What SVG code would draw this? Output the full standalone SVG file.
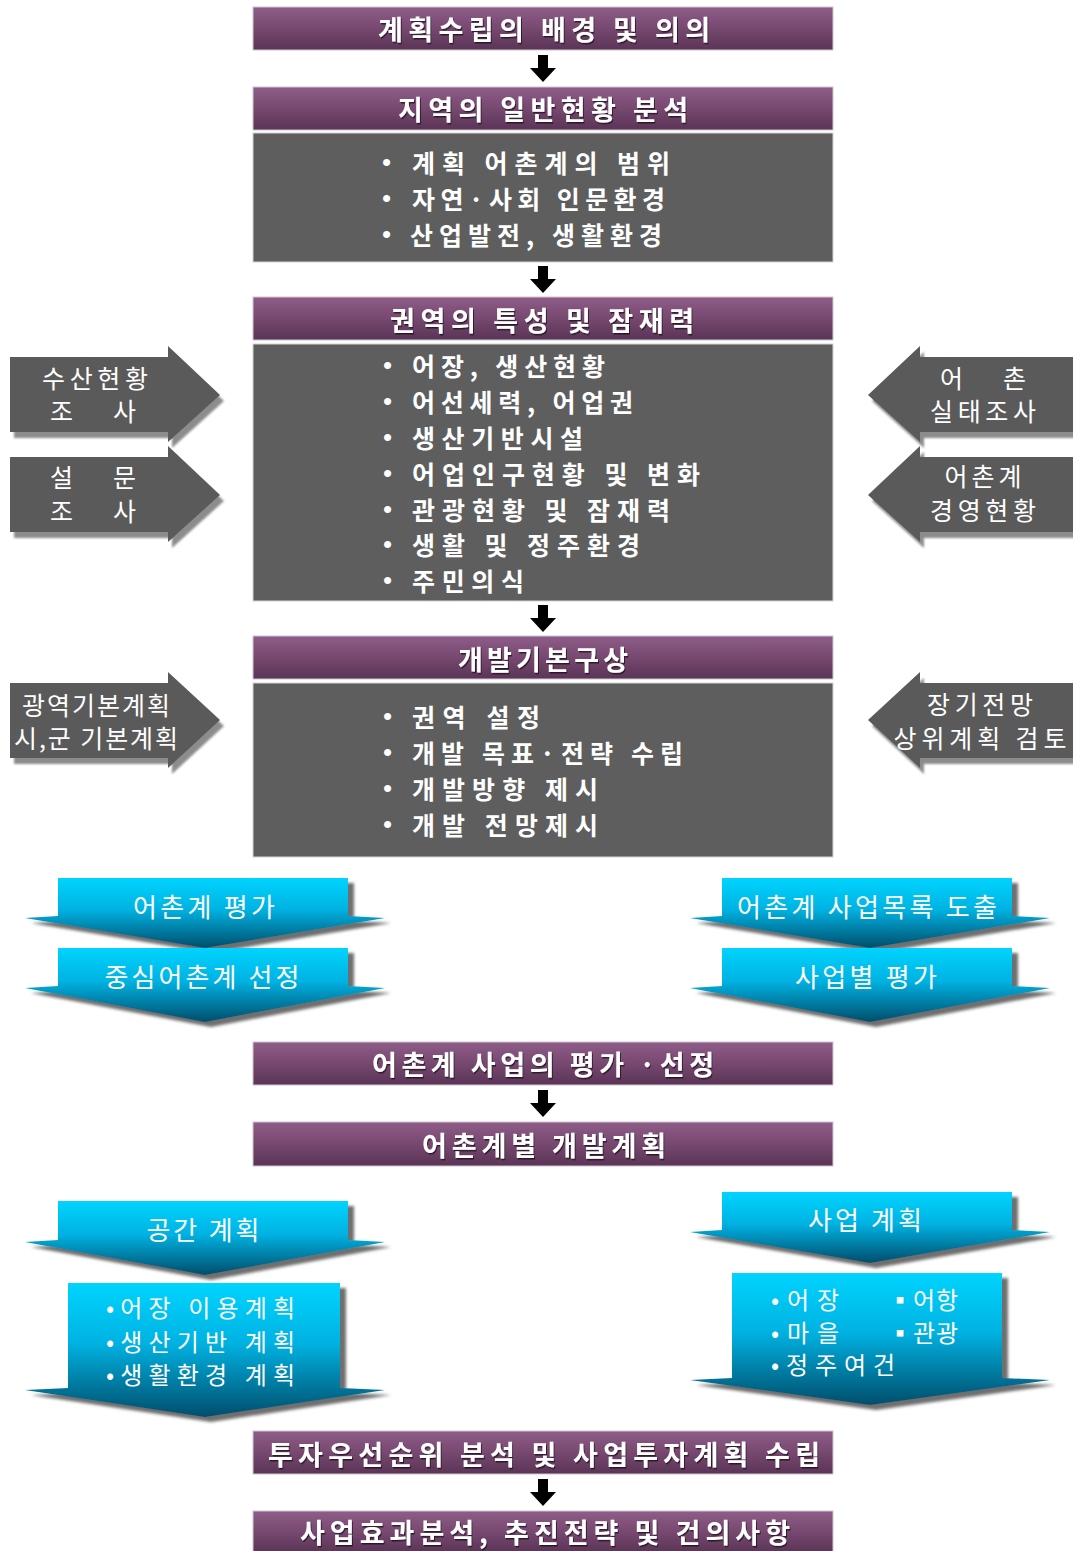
<svg xmlns="http://www.w3.org/2000/svg" width="1073" height="1551" viewBox="0 0 1073 1551">
<defs>
  <linearGradient id="gPurple" x1="0" y1="0" x2="0" y2="1">
    <stop offset="0" stop-color="#8f5d89"/>
    <stop offset="0.5" stop-color="#774870"/>
    <stop offset="1" stop-color="#5a3456"/>
  </linearGradient>
  <linearGradient id="gBlue" x1="0" y1="0" x2="0" y2="1">
    <stop offset="0" stop-color="#00d4ff"/>
    <stop offset="0.45" stop-color="#00b2e2"/>
    <stop offset="1" stop-color="#004e6c"/>
  </linearGradient>
  <filter id="fTxt" x="-5%" y="-20%" width="110%" height="150%">
    <feDropShadow dx="1" dy="1.5" stdDeviation="0.6" flood-color="#000" flood-opacity="0.6"/>
  </filter>
  <filter id="fBlue" x="-5%" y="-5%" width="115%" height="120%">
    <feDropShadow dx="6" dy="5" stdDeviation="1.5" flood-color="#555" flood-opacity="0.85"/>
  </filter>
  <filter id="fSide" x="-5%" y="-5%" width="115%" height="120%">
    <feDropShadow dx="4" dy="6" stdDeviation="1" flood-color="#8c8c8c" flood-opacity="1"/>
  </filter>
  <path id="dn" d="M-5,0 H5 V13 H13 L0,27 L-13,13 H-5 Z"/>
  <style>
    .bar { fill: url(#gPurple); stroke: #cfc6cf; stroke-width: 1; }
    .box { fill: #5e5e5e; stroke: #d4d4d4; stroke-width: 1; }
    .bt { font-family: "Noto Sans CJK KR", "Liberation Sans", sans-serif; font-size: 27px; font-weight: bold; fill: #fff; text-anchor: middle; dominant-baseline: central; filter: url(#fTxt); }
    .it { font-family: "Noto Sans CJK KR", "Liberation Sans", sans-serif; font-size: 25px; font-weight: bold; fill: #fff; dominant-baseline: central; }
    .bul { font-family: "Liberation Sans", sans-serif; font-size: 26px; fill: #fff; dominant-baseline: central; }
    .side { fill: #5a5a5a; filter: url(#fSide); }
    .st { font-family: "Noto Sans CJK KR", "Liberation Sans", sans-serif; font-size: 25px; fill: #fff; text-anchor: middle; dominant-baseline: central; }
    .blue { fill: url(#gBlue); filter: url(#fBlue); }
    .blt { font-family: "Noto Sans CJK KR", "Liberation Sans", sans-serif; font-size: 26px; fill: #fff; text-anchor: middle; dominant-baseline: central; }
    .blb { font-family: "Noto Sans CJK KR", "Liberation Sans", sans-serif; font-size: 24px; fill: #fff; dominant-baseline: central; }
    .arr { fill: #000; }
  </style>
</defs>
<rect width="1073" height="1551" fill="#fff"/>

<g id="connectors">
  <use href="#dn" class="arr" x="543" y="55"/>
  <use href="#dn" class="arr" x="543" y="266"/>
  <use href="#dn" class="arr" x="543" y="605"/>
  <use href="#dn" class="arr" x="543" y="1090"/>
  <use href="#dn" class="arr" x="543" y="1479"/>
</g>

<g id="n1">
  <rect class="bar" x="253" y="7" width="580" height="43"/>
  <text class="bt" x="544" y="28" textLength="332" lengthAdjust="spacing">계획수립의 배경 및 의의</text>
</g>
<g id="n2">
  <rect class="bar" x="253" y="87" width="580" height="43"/>
  <text class="bt" x="543" y="108" textLength="290" lengthAdjust="spacing">지역의 일반현황 분석</text>
</g>
<g id="n3">
  <rect class="box" x="253" y="133" width="580" height="129"/>
  <text class="bul" x="382" y="162">•</text>
  <text class="it" x="412" y="162" textLength="258" lengthAdjust="spacing">계획 어촌계의 범위</text>
  <text class="bul" x="382" y="198">•</text>
  <text class="it" x="412" y="198" textLength="253" lengthAdjust="spacing">자연·사회 인문환경</text>
  <text class="bul" x="382" y="234">•</text>
  <text class="it" x="410" y="234" textLength="252" lengthAdjust="spacing">산업발전, 생활환경</text>
</g>
<g id="n4">
  <rect class="bar" x="253" y="297" width="580" height="43"/>
  <text class="bt" x="542" y="319" textLength="304" lengthAdjust="spacing">권역의 특성 및 잠재력</text>
</g>
<g id="n5">
  <rect class="box" x="253" y="344" width="580" height="257"/>
  <text class="bul" x="383" y="365">•</text>
  <text class="it" x="412" y="365" textLength="193" lengthAdjust="spacing">어장, 생산현황</text>
  <text class="bul" x="383" y="401">•</text>
  <text class="it" x="412" y="401" textLength="221" lengthAdjust="spacing">어선세력, 어업권</text>
  <text class="bul" x="383" y="437">•</text>
  <text class="it" x="412" y="437" textLength="171" lengthAdjust="spacing">생산기반시설</text>
  <text class="bul" x="383" y="473">•</text>
  <text class="it" x="412" y="473" textLength="288" lengthAdjust="spacing">어업인구현황 및 변화</text>
  <text class="bul" x="383" y="509">•</text>
  <text class="it" x="412" y="509" textLength="258" lengthAdjust="spacing">관광현황 및 잠재력</text>
  <text class="bul" x="383" y="544">•</text>
  <text class="it" x="412" y="544" textLength="228" lengthAdjust="spacing">생활 및 정주환경</text>
  <text class="bul" x="383" y="580">•</text>
  <text class="it" x="412" y="580" textLength="112" lengthAdjust="spacing">주민의식</text>
</g>
<g id="n6">
  <rect class="bar" x="253" y="636" width="580" height="43"/>
  <text class="bt" x="543" y="658" textLength="170" lengthAdjust="spacing">개발기본구상</text>
</g>
<g id="n7">
  <rect class="box" x="253" y="683" width="580" height="174"/>
  <text class="bul" x="383" y="716">•</text>
  <text class="it" x="412" y="716" textLength="128" lengthAdjust="spacing">권역 설정</text>
  <text class="bul" x="383" y="752">•</text>
  <text class="it" x="412" y="752" textLength="271" lengthAdjust="spacing">개발 목표·전략 수립</text>
  <text class="bul" x="383" y="788">•</text>
  <text class="it" x="412" y="788" textLength="186" lengthAdjust="spacing">개발방향 제시</text>
  <text class="bul" x="383" y="824">•</text>
  <text class="it" x="412" y="824" textLength="186" lengthAdjust="spacing">개발 전망제시</text>
</g>

<!-- side arrows left -->
<g id="s1">
  <polygon class="side" points="10,357 168,357 168,346 220,395 168,442 168,432 10,432"/>
  <text class="st" x="95" y="377" textLength="106" lengthAdjust="spacing">수산현황</text>
  <text class="st" x="93" y="410" textLength="86" lengthAdjust="spacing">조　사</text>
</g>
<g id="s2">
  <polygon class="side" points="10,457 168,457 168,446 220,495 168,542 168,532 10,532"/>
  <text class="st" x="93" y="476" textLength="86" lengthAdjust="spacing">설　문</text>
  <text class="st" x="93" y="510" textLength="86" lengthAdjust="spacing">조　사</text>
</g>
<g id="s3">
  <polygon class="side" points="10,683 168,683 168,672 220,720 168,768 168,758 10,758"/>
  <text class="st" x="96" y="704" textLength="148" lengthAdjust="spacing">광역기본계획</text>
  <text class="st" x="96" y="737" textLength="164" lengthAdjust="spacing">시,군 기본계획</text>
</g>
<!-- side arrows right -->
<g id="s4">
  <polygon class="side" points="1073,357 920,357 920,346 868,395 920,442 920,432 1073,432"/>
  <text class="st" x="983" y="377" textLength="86" lengthAdjust="spacing">어　　촌</text>
  <text class="st" x="983" y="410" textLength="106" lengthAdjust="spacing">실태조사</text>
</g>
<g id="s5">
  <polygon class="side" points="1073,457 920,457 920,446 868,495 920,542 920,532 1073,532"/>
  <text class="st" x="983" y="475" textLength="77" lengthAdjust="spacing">어촌계</text>
  <text class="st" x="983" y="509" textLength="106" lengthAdjust="spacing">경영현황</text>
</g>
<g id="s6">
  <polygon class="side" points="1073,683 920,683 920,672 868,720 920,768 920,758 1073,758"/>
  <text class="st" x="980" y="703" textLength="106" lengthAdjust="spacing">장기전망</text>
  <text class="st" x="980" y="737" textLength="173" lengthAdjust="spacing">상위계획 검토</text>
</g>

<!-- blue arrows -->
<g id="b1">
  <polygon class="blue" points="58,878 348,878 348,916 385,918 205,948 25,918 58,916"/>
  <text class="blt" x="204" y="905" textLength="142" lengthAdjust="spacing">어촌계 평가</text>
</g>
<g id="b2">
  <polygon class="blue" points="58,948 348,948 348,986 385,988 205,1022 25,988 58,986"/>
  <text class="blt" x="202" y="975" textLength="195" lengthAdjust="spacing">중심어촌계 선정</text>
</g>
<g id="b3">
  <polygon class="blue" points="722,878 1012,878 1012,916 1050,918 870,948 690,918 722,916"/>
  <text class="blt" x="867" y="905" textLength="260" lengthAdjust="spacing">어촌계 사업목록 도출</text>
</g>
<g id="b4">
  <polygon class="blue" points="722,948 1012,948 1012,986 1050,988 870,1022 690,988 722,986"/>
  <text class="blt" x="866" y="975" textLength="142" lengthAdjust="spacing">사업별 평가</text>
</g>

<g id="n8">
  <rect class="bar" x="253" y="1042" width="580" height="43"/>
  <text class="bt" x="543" y="1063" textLength="342" lengthAdjust="spacing">어촌계 사업의 평가 ·선정</text>
</g>
<g id="n9">
  <rect class="bar" x="253" y="1122" width="580" height="44"/>
  <text class="bt" x="544" y="1144" textLength="244" lengthAdjust="spacing">어촌계별 개발계획</text>
</g>

<g id="b5">
  <polygon class="blue" points="58,1201 348,1201 348,1240 385,1242 205,1275 25,1242 58,1240"/>
  <text class="blt" x="203" y="1228" textLength="113" lengthAdjust="spacing">공간 계획</text>
</g>
<g id="b6">
  <polygon class="blue" points="68,1283 340,1283 340,1388 385,1390 205,1417 25,1390 68,1388"/>
  <text class="blb" x="106" y="1306" textLength="189" lengthAdjust="spacing">•어장 이용계획</text>
  <text class="blb" x="106" y="1340" textLength="189" lengthAdjust="spacing">•생산기반 계획</text>
  <text class="blb" x="106" y="1373" textLength="189" lengthAdjust="spacing">•생활환경 계획</text>
</g>
<g id="b7">
  <polygon class="blue" points="722,1192 1012,1192 1012,1230 1050,1232 870,1263 690,1232 722,1230"/>
  <text class="blt" x="865" y="1218" textLength="114" lengthAdjust="spacing">사업 계획</text>
</g>
<g id="b8">
  <polygon class="blue" points="732,1273 1002,1273 1002,1378 1050,1380 870,1405 690,1380 732,1378"/>
  <text class="blb" x="771" y="1298" textLength="68" lengthAdjust="spacing">•어장</text>
  <text class="blb" x="888" y="1298" textLength="70" lengthAdjust="spacing">▪어항</text>
  <text class="blb" x="771" y="1331" textLength="68" lengthAdjust="spacing">•마을</text>
  <text class="blb" x="888" y="1331" textLength="70" lengthAdjust="spacing">▪관광</text>
  <text class="blb" x="771" y="1363" textLength="124" lengthAdjust="spacing">•정주여건</text>
</g>

<g id="n10">
  <rect class="bar" x="253" y="1431" width="580" height="43"/>
  <text class="bt" x="544" y="1453" textLength="552" lengthAdjust="spacing">투자우선순위 분석 및 사업투자계획 수립</text>
</g>
<g id="n11">
  <rect class="bar" x="253" y="1511" width="580" height="42"/>
  <text class="bt" x="545" y="1531" textLength="490" lengthAdjust="spacing">사업효과분석, 추진전략 및 건의사항</text>
</g>
</svg>
